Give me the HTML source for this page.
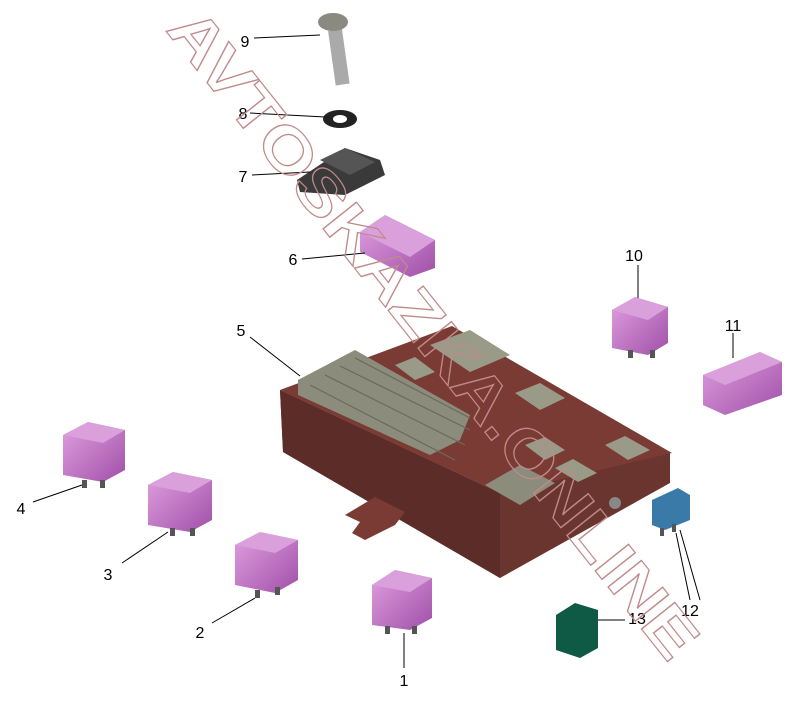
<!DOCTYPE html>
<html><head><style>body{margin:0;background:#fff}svg{display:block}</style></head><body>
<svg width="797" height="702" viewBox="0 0 797 702" xmlns="http://www.w3.org/2000/svg" font-family="Liberation Sans, sans-serif">
<defs>
<linearGradient id="pk" x1="0" y1="0" x2="1" y2="1"><stop offset="0" stop-color="#e0a0e0"/><stop offset="1" stop-color="#a050a8"/></linearGradient>
</defs>
<!-- fuse box -->
<polygon points="280,390 283,452 500,578 670,483 670,453 500,493" fill="#6a342f"/>
<polygon points="280,390 500,493 500,578 283,452" fill="#5c2c28"/>
<polygon points="280,390 452,326 672,453 500,493" fill="#7a3b35"/>
<polygon points="345,515 375,497 405,512 395,525 365,540 352,533 360,522" fill="#7a3b35"/>
<circle cx="615" cy="503" r="6" fill="#888"/>
<g fill="#9a9a88">
<polygon points="430,345 470,330 510,355 470,372"/>
<polygon points="515,393 540,383 565,398 540,410"/>
<polygon points="605,445 625,436 650,450 628,460"/>
<polygon points="555,468 573,459 597,473 578,482"/>
<polygon points="525,445 545,437 565,450 545,460"/>
<polygon points="395,365 415,357 435,372 415,380"/>
</g>
<g fill="#8c8c7c">
<polygon points="298,380 355,350 470,415 460,440 430,455 298,395"/>
<polygon points="485,485 520,465 555,483 520,505"/>
</g>
<g stroke="#6a6a5a" stroke-width="1.2">
<line x1="310" y1="385" x2="455" y2="460"/><line x1="325" y1="375" x2="465" y2="445"/><line x1="340" y1="366" x2="470" y2="430"/><line x1="355" y1="358" x2="470" y2="418"/>
</g>
<!-- relays -->
<g>
<polygon points="372,585 395,570 432,578 432,618 410,630 372,625" fill="url(#pk)"/><polygon points="372,585 395,570 432,578 410,592" fill="#d9a0dc"/>
<rect x="385" y="626" width="5" height="8" fill="#555"/><rect x="412" y="626" width="5" height="8" fill="#555"/>
<polygon points="235,545 260,532 298,540 298,580 275,593 235,585" fill="url(#pk)"/><polygon points="235,545 260,532 298,540 275,553" fill="#d9a0dc"/>
<rect x="255" y="590" width="5" height="8" fill="#555"/><rect x="275" y="587" width="5" height="8" fill="#555"/>
<polygon points="148,485 173,472 212,480 212,520 190,532 148,525" fill="url(#pk)"/><polygon points="148,485 173,472 212,480 190,493" fill="#d9a0dc"/>
<rect x="170" y="528" width="5" height="8" fill="#555"/><rect x="190" y="528" width="5" height="8" fill="#555"/>
<polygon points="63,435 88,422 125,430 125,470 103,482 63,475" fill="url(#pk)"/><polygon points="63,435 88,422 125,430 103,443" fill="#d9a0dc"/>
<rect x="82" y="480" width="5" height="8" fill="#555"/><rect x="100" y="480" width="5" height="8" fill="#555"/>
<polygon points="612,310 635,297 668,307 668,343 648,355 612,348" fill="url(#pk)"/><polygon points="612,310 635,297 668,307 648,320" fill="#d9a0dc"/>
<rect x="628" y="350" width="5" height="8" fill="#555"/><rect x="650" y="350" width="5" height="8" fill="#555"/>
<polygon points="703,375 760,352 782,362 782,395 725,415 703,405" fill="url(#pk)"/><polygon points="703,375 760,352 782,362 725,385" fill="#d9a0dc"/>
<polygon points="360,232 385,215 435,240 435,268 410,277 360,252" fill="url(#pk)"/><polygon points="360,232 385,215 435,240 410,257" fill="#d9a0dc"/>
<!-- blue fuse -->
<polygon points="652,500 678,488 690,495 690,520 665,530 652,525" fill="#3a7aa8"/>
<rect x="660" y="528" width="4" height="8" fill="#555"/><rect x="672" y="524" width="4" height="8" fill="#555"/>
<!-- green -->
<polygon points="556,615 575,603 598,610 598,648 580,658 556,650" fill="#0e5a45"/>
<!-- clip 7 -->
<polygon points="297,180 345,148 380,160 385,175 345,195 300,192" fill="#3a3a3a"/>
<polygon points="320,160 345,148 375,162 350,175" fill="#555"/>
<!-- washer 8 -->
<ellipse cx="340" cy="119" rx="17" ry="9" fill="#222"/><ellipse cx="340" cy="119" rx="7" ry="4" fill="#fff"/>
<!-- screw 9 -->
<rect x="328" y="30" width="14" height="55" fill="#aaa" transform="rotate(-8 335 30)"/>
<ellipse cx="333" cy="22" rx="15" ry="9" fill="#8a8a80"/>
</g>
<!-- leaders -->
<g stroke="#000" stroke-width="1">
<line x1="404" y1="633" x2="404" y2="668"/>
<line x1="255" y1="598" x2="212" y2="623"/>
<line x1="168" y1="532" x2="122" y2="563"/>
<line x1="82" y1="485" x2="33" y2="502"/>
<line x1="250" y1="337" x2="300" y2="376"/>
<line x1="302" y1="259" x2="365" y2="253"/>
<line x1="252" y1="175" x2="310" y2="172"/>
<line x1="250" y1="113" x2="325" y2="117"/>
<line x1="254" y1="38" x2="320" y2="35"/>
<line x1="638" y1="265" x2="638" y2="298"/>
<line x1="733" y1="333" x2="733" y2="358"/>
<line x1="598" y1="620" x2="625" y2="620"/>
<line x1="676" y1="533" x2="690" y2="600"/>
<line x1="680" y1="530" x2="700" y2="600"/>
</g>
<g font-size="16" fill="#000" text-anchor="middle">
<text x="404" y="686">1</text><text x="200" y="638">2</text><text x="108" y="580">3</text><text x="21" y="514">4</text>
<text x="241" y="336">5</text><text x="293" y="265">6</text><text x="243" y="182">7</text><text x="243" y="119">8</text><text x="245" y="47">9</text>
<text x="634" y="261">10</text><text x="733" y="331">11</text><text x="690" y="616">12</text><text x="637" y="624">13</text>
</g>
<!-- watermark -->
<text x="0" y="0" transform="translate(165,30) rotate(51.5)" font-size="62" font-weight="bold" fill="none" stroke="#c08a8a" stroke-width="1.2" textLength="810" lengthAdjust="spacingAndGlyphs">AVTOSKAZKA.ONLINE</text>
</svg>
</body></html>
